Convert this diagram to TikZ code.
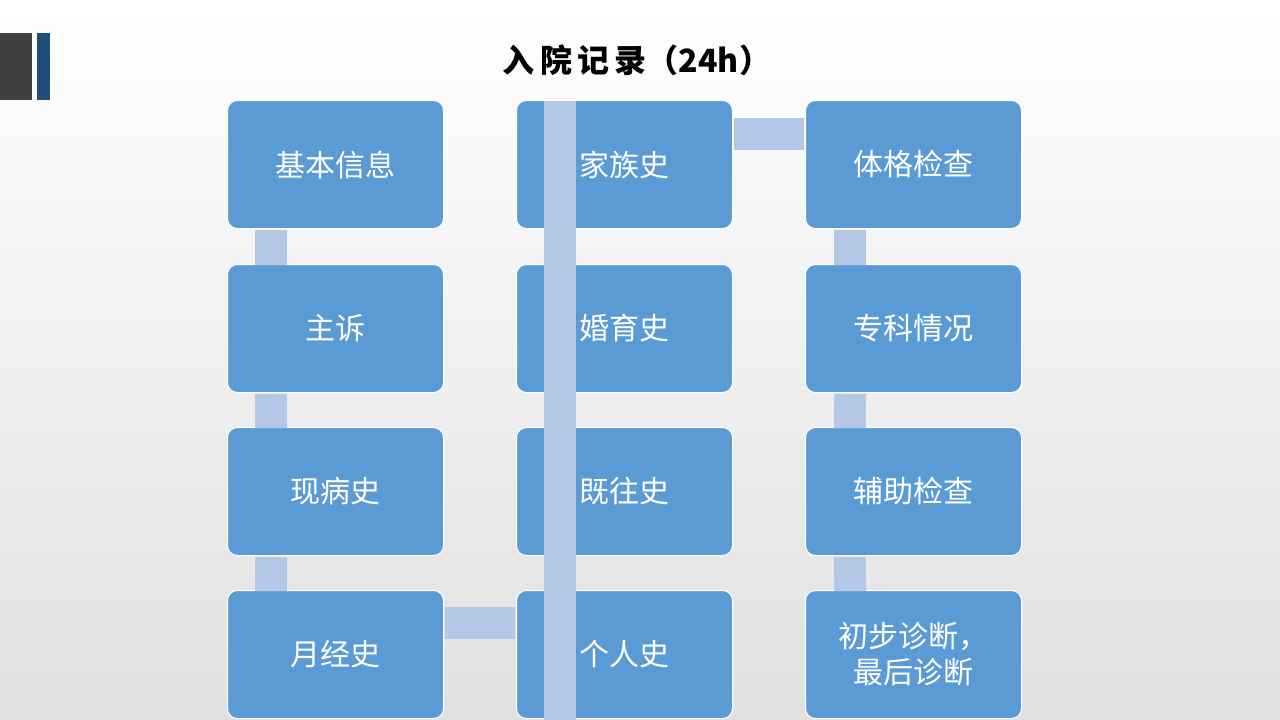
\documentclass[tikz,border=0pt]{standalone}
\usepackage{fontspec}
\newfontfamily\cjk{Noto Sans CJK SC}
\definecolor{boxblue}{HTML}{5B9BD5}
\definecolor{linkblue}{HTML}{B4C7E7}
\definecolor{barblue}{HTML}{1F4E79}
\begin{document}
\begin{tikzpicture}[x=1pt,y=-1pt,
  box/.style={draw=white,line width=1pt,fill=boxblue,rounded corners=10pt,minimum width=216pt,minimum height=128pt,text=white,font=\cjk\fontsize{30}{36}\selectfont,align=center,anchor=north west,inner sep=0pt},
  link/.style={draw=linkblue,line width=32pt}]
\shade[top color=white,bottom color=black!12] (0,0) rectangle (1280,720);
\useasboundingbox (0,0) rectangle (1280,720);
\fill[black!75] (0,33) rectangle (32,100);
\fill[barblue] (37,33) rectangle (50,100);
\node[font=\cjk\bfseries\fontsize{32}{38}\selectfont] (title) at (637,60) {入\,院\,记\,录（24h）};
\node[box] (a1) at (227,100) {基本信息};
\node[box] (a2) at (227,264) {主诉};
\node[box] (a3) at (227,427) {现病史};
\node[box] (a4) at (227,590) {月经史};
\node[box] (b1) at (516,100) {家族史};
\node[box] (b2) at (516,264) {婚育史};
\node[box] (b3) at (516,427) {既往史};
\node[box] (b4) at (516,590) {个人史};
\node[box] (c1) at (805,100) {体格检查};
\node[box] (c2) at (805,264) {专科情况};
\node[box] (c3) at (805,427) {辅助检查};
\node[box] (c4) at (805,590) {初步诊断，\\最后诊断};
\begin{scope}[on background layer/.style={}]
\foreach \u/\v/\x in {a1/a2/271,a2/a3/271,a3/a4/271,b2/b1/560,b3/b2/560,b4/b3/560,c1/c2/850,c2/c3/850,c3/c4/850}
  \draw[link] (\u.south -| \x,0) ++(0,1) -- ([yshift=-1pt]\v.north -| \x,0);
\draw[link] ([xshift=1pt]a4.east |- 0,623) -- ([xshift=-1pt]b4.west |- 0,623);
\draw[link] ([xshift=1pt]b1.east |- 0,134) -- ([xshift=-1pt]c1.west |- 0,134);
\end{scope}
\end{tikzpicture}
\end{document}
